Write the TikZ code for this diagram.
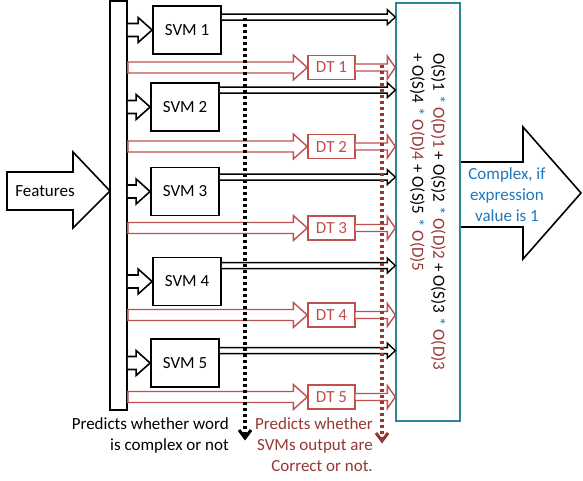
\documentclass[tikz,border=0pt]{standalone}
\usepackage{fontspec}
\setmainfont{Carlito}
\usetikzlibrary{calc}
\definecolor{redl}{RGB}{192,80,77}
\definecolor{redd}{RGB}{149,55,53}
\definecolor{tealb}{RGB}{49,133,155}
\definecolor{bluet}{RGB}{31,120,190}
% #1 style, #2 start, #3 end (x only), #4 shaft half, #5 head half, #6 head length, #7 closing
\newcommand\blkarrow[7]{%
  \draw[#1] let \p1=(#2), \p2=(#3) in
    (\x1,\y1+#4) -- (\x2-#6,\y1+#4) -- (\x2-#6,\y1+#5) -- (\x2,\y1)
    -- (\x2-#6,\y1-#5) -- (\x2-#6,\y1-#4) -- (\x1,\y1-#4) #7;}
\newcommand\mystar{\hspace{4pt}\textcolor{bluet}{*}}
\begin{document}
\begin{tikzpicture}[x=1pt,y=-1pt,font=\fontsize{17}{21}\selectfont,
  blk/.style={draw=black,line width=1.6pt,fill=white,line join=miter},
  blkthin/.style={draw=black,line width=1.4pt,fill=white,line join=miter},
  redarr/.style={draw=redl,line width=1.4pt,fill=white,line join=miter},
  svmbox/.style={draw=black,line width=1.8pt,fill=white,minimum width=68pt,minimum height=48pt,inner sep=0pt},
  dtbox/.style={draw=redl,line width=1.4pt,fill=white,text=redl,minimum width=47pt,minimum height=24pt,inner sep=0pt},
  dotblack/.style={draw=black,line width=3.2pt,dash pattern=on 3pt off 3pt},
  dotred/.style={draw=redd,line width=3.2pt,dash pattern=on 3pt off 3pt},
  tipblack/.style={draw=black,line width=3pt,solid,line join=miter},
  tipred/.style={draw=redd,line width=3pt,solid,line join=miter}]
\useasboundingbox (0,0) rectangle (583,481);

% vertical bar
\node[draw=black,line width=1.8pt,fill=white,minimum width=17pt,minimum height=409pt,inner sep=0pt] (bar) at (118.5,205.5) {};

% Features arrow
\draw[blk] (7,172) -- (73,172) -- (73,152) -- (110,191) -- (73,228) -- (73,210) -- (7,210) -- cycle;
\node (feat) at (45,191) {Features};

% SVM boxes
\node[svmbox] (s1) at (187,30) {SVM 1};
\node[svmbox] (s2) at (185,107) {SVM 2};
\node[svmbox] (s3) at (185,191.5) {SVM 3};
\node[svmbox] (s4) at (187,281.5) {SVM 4};
\node[svmbox] (s5) at (185,363) {SVM 5};

% DT boxes
\node[dtbox] (d1) at (331.5,67.5) {DT 1};
\node[dtbox] (d2) at (331.5,146.5) {DT 2};
\node[dtbox] (d3) at (331.5,228) {DT 3};
\node[dtbox] (d4) at (331.5,315) {DT 4};
\node[dtbox] (d5) at (331.5,397) {DT 5};

% big right arrow
\draw[blk] (460,162) -- (523,162) -- (523,127) -- (581,193) -- (523,259) -- (523,227) -- (460,227);

% teal box
\node[draw=tealb,line width=1.4pt,minimum width=64pt,minimum height=418pt,inner sep=0pt] (teal) at (428,212) {};

% bar -> SVM arrows
\foreach \s in {s1,s2,s3,s4,s5}{
  \blkarrow{blk}{bar.east |- \s.west}{\s.west}{6.5pt}{12.5pt}{14pt}{}
}
% SVM -> teal arrows
\coordinate (o1) at ($(s1.north east)+(0,12)$);
\coordinate (o2) at ($(s2.north east)+(0,8)$);
\coordinate (o3) at ($(s3.north east)+(0,10.5)$);
\coordinate (o4) at ($(s4.north east)+(0,9)$);
\coordinate (o5) at ($(s5.north east)+(0,12.5)$);
\foreach \o in {o1,o2,o3,o4,o5}{
  \blkarrow{blkthin}{\o}{teal.west}{3pt}{7.5pt}{8pt}{}
}
% bar -> DT and DT -> teal arrows
\foreach \d in {d1,d2,d3,d4,d5}{
  \blkarrow{redarr}{bar.east |- \d.west}{\d.west}{5.5pt}{12.5pt}{14pt}{-- cycle}
  \blkarrow{redarr}{\d.east}{teal.west}{3.5pt}{11.5pt}{8pt}{}
}

% expression text (rotated)
\node[rotate=-90,anchor=north west,align=left,inner sep=0pt] (expr) at (446,53)
 {O(S)1\mystar{} \textcolor{redd}{O(D)1} + O(S)2\mystar{} \textcolor{redd}{O(D)2} + O(S)3\mystar{} \textcolor{redd}{O(D)3}\\
  + O(S)4\mystar{} \textcolor{redd}{O(D)4} + O(S)5\mystar{} \textcolor{redd}{O(D)5}};

% complex label
\node[align=center,anchor=north,inner sep=0pt,text=bluet] (cplx) at (507,167)
 {Complex, if\\expression\\value is 1};

% bottom labels
\node[align=right,anchor=north east,inner sep=0pt] (lbl1) at (229,417)
 {Predicts whether word\\is complex or not};
\node[align=right,anchor=north east,inner sep=0pt,text=redd] (lbl2) at (373,417)
 {Predicts whether\\SVMs output are\\Correct or not.};

% dotted arrows
\coordinate (bd1) at (245,18);
\coordinate (bd2) at (245,438);
\draw[dotblack] (bd1) -- ($(bd2)+(0,-2)$);
\draw[tipblack] ($(bd2)+(-6,-8)$) -- (bd2) -- ($(bd2)+(6,-8)$);
\coordinate (rd1) at (382,65);
\coordinate (rd2) at (382,441);
\draw[dotred] (rd1) -- ($(rd2)+(0,-2)$);
\draw[tipred] ($(rd2)+(-6,-8)$) -- (rd2) -- ($(rd2)+(6,-8)$);
\end{tikzpicture}
\end{document}
